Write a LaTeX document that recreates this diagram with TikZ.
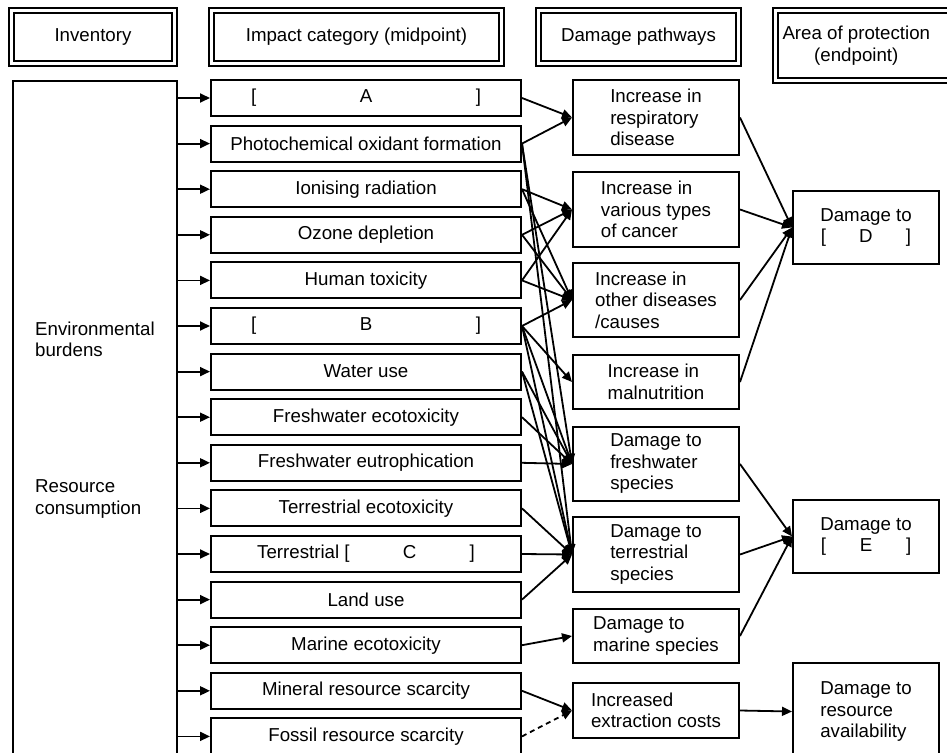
\documentclass[tikz,border=0pt]{standalone}
\usepackage{fontspec}
\setmainfont{Liberation Sans}
\usetikzlibrary{arrows.meta}
\begin{document}
\begin{tikzpicture}[x=1pt,y=-1pt,
        every node/.style={font=\fontsize{18.7}{21.5}\selectfont,inner sep=0pt},
        headbox/.style={draw,double,line width=2pt,double distance=2.5pt,align=center},
        midbox/.style={draw,line width=2pt,minimum width=310pt,minimum height=36pt},
        pwbox/.style={draw,line width=2pt,minimum width=166pt,align=left},
        endbox/.style={draw,line width=2pt,minimum width=146pt,align=center},
        conn/.style={line width=1.8pt,-{Triangle[length=10pt,width=9pt]}}]
        \useasboundingbox (0,0) rectangle (947,752);
        \clip (0,0) rectangle (947,752);
        %% Headers
        \node[headbox,minimum width=163.4pt,minimum height=53.4pt] (hinv) at (93,37) {Inventory};
        \node[headbox,minimum width=290.4pt,minimum height=53.4pt] (himp) at (356.5,37) {Impact category (midpoint)};
        \node[headbox,minimum width=200.4pt,minimum height=53.4pt] (hdam) at (638.5,37) {Damage pathways};
        \node[headbox,minimum width=180pt,minimum height=70.4pt] (hend) at (865.3,45.5)
            {Area of protection\hspace*{18pt}\\(endpoint)\hspace*{18pt}};
        %% Inventory
        \node[draw,line width=2pt,minimum width=164pt,minimum height=720pt,anchor=north west] (inv) at (12,80) {};
        \node[anchor=west,align=left] (burden) at (35,339.5) {Environmental\\burdens};
        \node[anchor=west,align=left] (resource) at (35,499) {Resource\\consumption};
        %% Midpoints
        \foreach \i/\t in {0/{\makebox[230pt]{[\hfill A\hfill]}},1/Photochemical oxidant formation,
                2/Ionising radiation,3/Ozone depletion,4/Human toxicity,5/{\makebox[230pt]{[\hfill B\hfill]}},
                6/Water use,7/Freshwater ecotoxicity,8/Freshwater eutrophication,9/Terrestrial ecotoxicity,
                10/{Terrestrial [\makebox[120pt]{C}]},11/Land use,12/Marine ecotoxicity,
                13/Mineral resource scarcity,14/Fossil resource scarcity}{
            \node[midbox] (m\i) at (366,98+45.6*\i) {\t};
            \draw[conn] (inv.east |- m\i) -- (m\i.west);
        }
        %% Damage pathways
        \node[pwbox,minimum height=75pt] (p1) at (656,117.5) {Increase in\\respiratory\\disease};
        \node[pwbox,minimum height=75pt] (p2) at (656,209.5) {Increase in\\various types\\of cancer};
        \node[pwbox,minimum height=74pt] (p3) at (656,300) {Increase in\\other diseases\\/causes};
        \node[pwbox,minimum height=54pt] (p4) at (656,382) {Increase in\\malnutrition};
        \node[pwbox,minimum height=74pt] (p5) at (656,464) {Damage to\\freshwater\\species};
        \node[pwbox,minimum height=75pt] (p6) at (656,554.5) {Damage to\\terrestrial\\species};
        \node[pwbox,minimum height=54pt] (p7) at (656,636) {Damage to\\marine species};
        \node[pwbox,minimum height=55pt] (p8) at (656,710.5) {Increased\\extraction costs};
        %% Endpoints
        \node[endbox,minimum height=73pt] (e1) at (866,227.5) {Damage to\\{[}\makebox[80pt]{D}{]}};
        \node[endbox,minimum height=73pt] (e2) at (866,536.5) {Damage to\\{[}\makebox[80pt]{E}{]}};
        \node[endbox,minimum height=97pt,align=left] (e3) at (866,711.5) {Damage to\\resource\\availability};
        %% Links
        \foreach \a/\b in {0/1,1/1,1/5,1/6,2/2,2/3,3/2,3/3,4/2,4/3,5/3,5/4,5/5,5/6,6/5,6/6,
                7/5,8/5,9/6,10/6,11/6,12/7,13/8}
            \draw[conn] (m\a.east) -- (p\b.west);
        \draw[conn,dash pattern=on 5pt off 4pt] (m14.east) -- (p8.west);
        \foreach \a/\b in {1/1,2/1,3/1,4/1,5/2,6/2,7/2,8/3}
            \draw[conn] (p\a.east) -- (e\b.west);
    \end{tikzpicture}
\end{document}
